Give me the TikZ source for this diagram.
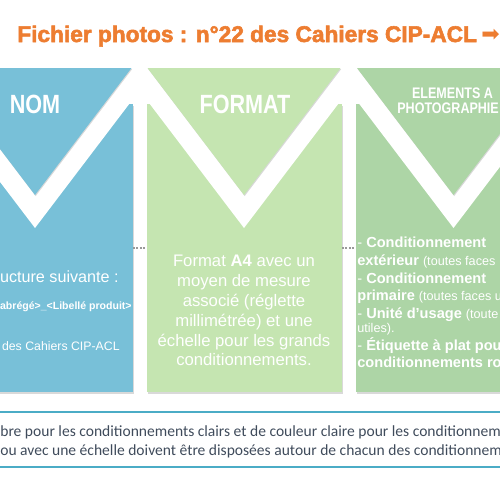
\documentclass[tikz,border=0pt]{standalone}
\usepackage{fontspec}
\setmainfont{Liberation Sans}
\newfontfamily\titlefont{Liberation Sans}[BoldFeatures={FakeBold=2.5}]
\newfontfamily\narrowfont[FakeStretch=0.82]{Liberation Sans}
\newfontfamily\notefont{Carlito}
\newfontfamily\symbfont{DejaVu Sans}
\usetikzlibrary{shadows}
\definecolor{titleorange}{HTML}{ED7D31}
\definecolor{nomblue}{HTML}{78C0D8}
\definecolor{formatgreen}{HTML}{C5E5B1}
\definecolor{elemgreen}{HTML}{ADD5A6}
\definecolor{rulecolor}{HTML}{4BACC6}
\definecolor{notetext}{HTML}{3F4B5B}
\newcommand\smalltxt{\fontsize{7.2}{8}\selectfont}
\tikzset{
  colbox/.style={minimum width=39mm, minimum height=57.6mm, inner sep=0pt,
    drop shadow={shadow xshift=0.7pt, shadow yshift=-0.9pt, opacity=0.3}},
  trishadow/.style={drop shadow={shadow xshift=0.4pt, shadow yshift=-0.6pt, opacity=0.3}},
  headtext/.style={text=white, inner sep=0pt, font=\narrowfont\bfseries\fontsize{15}{16}\selectfont},
  bodytext/.style={text=white, inner sep=0pt},
  connector/.style={gray!80, line width=0.7pt, dash pattern=on 1pt off 1pt},
  noterule/.style={rulecolor, line width=0.6pt},
  notetxt/.style={text=notetext, inner sep=0pt, font=\notefont\fontsize{8.85}{10}\selectfont}
}
\begin{document}
\begin{tikzpicture}[x=0.2mm, y=-0.2mm]
	\useasboundingbox (0,0) rectangle (500,500);
	\clip (0,0) rectangle (500,500);
	% title
	\node[anchor=base west, inner sep=0pt, text=titleorange, font=\titlefont\bfseries\fontsize{12.9}{15}\selectfont] (title) at (17,42) {Fichier photos : n°22 des Cahiers CIP-ACL};
	\node[anchor=base west, inner sep=0pt, text=titleorange, font=\symbfont\fontsize{12.5}{15}\selectfont] (titlearrow) at (481,41) {➡};
	% boxes
	\node[colbox, fill=nomblue] (nombox) at (35,248) {};
	\node[colbox, fill=formatgreen] (formatbox) at (244,248) {};
	\node[colbox, fill=elemgreen] (elembox) at (453.5,248) {};
	% white bands
	\fill[white] (-59.2,104) -- (129.2,104) -- (35,228) -- cycle;
	\fill[white] (149.8,104) -- (338.2,104) -- (244,228) -- cycle;
	\fill[white] (359.3,104) -- (547.7,104) -- (453.5,228) -- cycle;
	% triangles
	\fill[nomblue, trishadow] (-61.5,68) -- (131.5,68) -- (35,195) -- cycle;
	\fill[formatgreen, trishadow] (147.5,68) -- (340.5,68) -- (244,195) -- cycle;
	\fill[elemgreen, trishadow] (357,68) -- (550,68) -- (453.5,195) -- cycle;
	% links
	\draw[connector] (nombox.east) -- (formatbox.west);
	\draw[connector] (formatbox.east) -- (elembox.west);
	% headings
	\node[headtext, anchor=base] (nomhead) at (35,113) {NOM};
	\node[headtext, anchor=base] (formathead) at (245,113) {FORMAT};
	\node[headtext, anchor=base, font=\narrowfont\bfseries\fontsize{8.7}{10}\selectfont] (elemheadA) at (452.5,98) {ELEMENTS A};
	\node[headtext, anchor=base west, font=\narrowfont\bfseries\fontsize{8.7}{10}\selectfont] (elemheadB) at (397,113) {PHOTOGRAPHIE};
	% nom text
	\node[bodytext, anchor=base east, font=\fontsize{9.2}{11}\selectfont] (nomA) at (119,282) {ucture suivante :};
	\node[bodytext, anchor=base east, font=\bfseries\fontsize{6}{7}\selectfont] (nomB) at (132,309) {abrégé>\_<Libellé produit>};
	\node[bodytext, anchor=base east, font=\fontsize{7}{8}\selectfont] (nomC) at (120,350) {des Cahiers CIP-ACL};
	% format text
	\node[bodytext, align=center, font=\fontsize{9.5}{11.34}\selectfont] (formattext) at (244,310.5)
		{Format \textbf{A4} avec un\\moyen de mesure\\associé (réglette\\millimétrée) et une\\échelle pour les grands\\conditionnements.};
	% elements text
	\foreach \yy/\txt [count=\i] in {
		247/{- \textbf{Conditionnement}},
		265/{\textbf{extérieur} {\smalltxt (toutes faces}},
		283/{- \textbf{Conditionnement}},
		300/{\textbf{primaire} {\smalltxt (toutes faces u}},
		318/{- \textbf{Unité d’usage} {\smalltxt (toute}},
		332/{{\smalltxt utiles).}},
		350/{- \textbf{Étiquette à plat pou}},
		367/{\textbf{conditionnements ro}}}
		\node[bodytext, anchor=base west, font=\fontsize{8.3}{10}\selectfont] (elem\i) at (357,\yy) {\txt};
	% note
	\draw[noterule] (0,412) -- (500,412);
	\draw[noterule] (0,467) -- (500,467);
	\node[notetxt, anchor=base west] (noteA) at (0,436) {bre pour les conditionnements clairs et de couleur claire pour les conditionnem};
	\node[notetxt, anchor=base west] (noteB) at (0,455) {ou avec une échelle doivent être disposées autour de chacun des conditionnem};
\end{tikzpicture}
\end{document}
